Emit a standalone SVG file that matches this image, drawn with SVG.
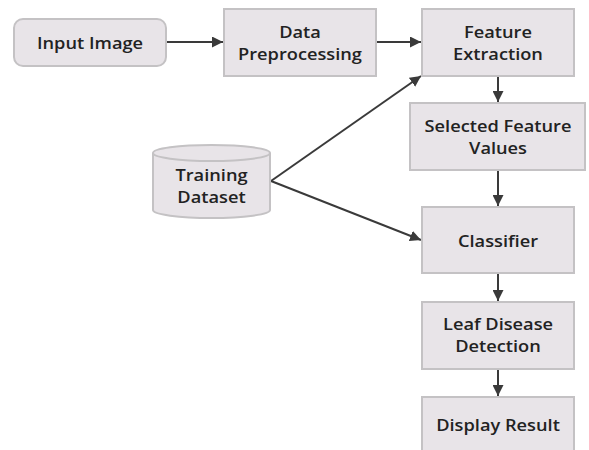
<svg xmlns="http://www.w3.org/2000/svg" width="589" height="450" viewBox="0 0 589 450">
<style>
.box{fill:#e8e4e8;stroke:#c4c2c4;stroke-width:2}
.t{font-family:"Open Sans","Noto Sans","DejaVu Sans",sans-serif;font-size:16px;font-weight:600;fill:#222222;text-anchor:middle;dominant-baseline:central}
.c{stroke:#3a3a3a;stroke-width:2;fill:none;marker-end:url(#ah)}
</style>
<defs>
<marker id="ah" viewBox="0 0 10 10" refX="10" refY="5" markerWidth="5.5" markerHeight="5.5" orient="auto" markerUnits="strokeWidth">
<path d="M0,0 L10,5 L0,10 z" fill="#3a3a3a"/>
</marker>
</defs>
<rect width="589" height="450" fill="#ffffff"/>
<g id="connectors">
<line class="c" x1="166" y1="42" x2="223" y2="42"/>
<line class="c" x1="377" y1="42" x2="421" y2="42"/>
<line class="c" x1="271" y1="181" x2="421" y2="76"/>
<line class="c" x1="271" y1="181" x2="421" y2="240"/>
<line class="c" x1="498" y1="76" x2="498" y2="102"/>
<line class="c" x1="498" y1="170" x2="498" y2="206"/>
<line class="c" x1="498" y1="273" x2="498" y2="301"/>
<line class="c" x1="498" y1="369" x2="498" y2="396"/>
</g>
<g id="input-image">
<rect class="box" x="14" y="19" width="152" height="47" rx="9"/>
<text class="t" transform="translate(90,43) scale(1.14,1)">Input Image</text>
</g>
<g id="data-preprocessing">
<rect class="box" x="224" y="9" width="152" height="67"/>
<text class="t" transform="translate(300,32) scale(1.14,1)">Data</text>
<text class="t" transform="translate(300,54) scale(1.14,1)">Preprocessing</text>
</g>
<g id="feature-extraction">
<rect class="box" x="422" y="9" width="152" height="67"/>
<text class="t" transform="translate(498,32) scale(1.14,1)">Feature</text>
<text class="t" transform="translate(498,54) scale(1.14,1)">Extraction</text>
</g>
<g id="selected-feature-values">
<rect class="box" x="410" y="103" width="175" height="67"/>
<text class="t" transform="translate(498,126) scale(1.14,1)">Selected Feature</text>
<text class="t" transform="translate(498,148) scale(1.14,1)">Values</text>
</g>
<g id="training-dataset">
<path class="box" d="M153,153 L153,210 A58.5,8 0 0 0 270,210 L270,153"/>
<ellipse class="box" cx="211.5" cy="153" rx="58.5" ry="8"/>
<text class="t" transform="translate(211.5,175) scale(1.14,1)">Training</text>
<text class="t" transform="translate(211.5,197) scale(1.14,1)">Dataset</text>
</g>
<g id="classifier">
<rect class="box" x="422" y="207" width="152" height="66"/>
<text class="t" transform="translate(498,241) scale(1.14,1)">Classifier</text>
</g>
<g id="leaf-disease-detection">
<rect class="box" x="422" y="302" width="152" height="67"/>
<text class="t" transform="translate(498,324) scale(1.14,1)">Leaf Disease</text>
<text class="t" transform="translate(498,346) scale(1.14,1)">Detection</text>
</g>
<g id="display-result">
<rect class="box" x="422" y="397" width="152" height="70"/>
<text class="t" transform="translate(498,425) scale(1.14,1)">Display Result</text>
</g>
</svg>
